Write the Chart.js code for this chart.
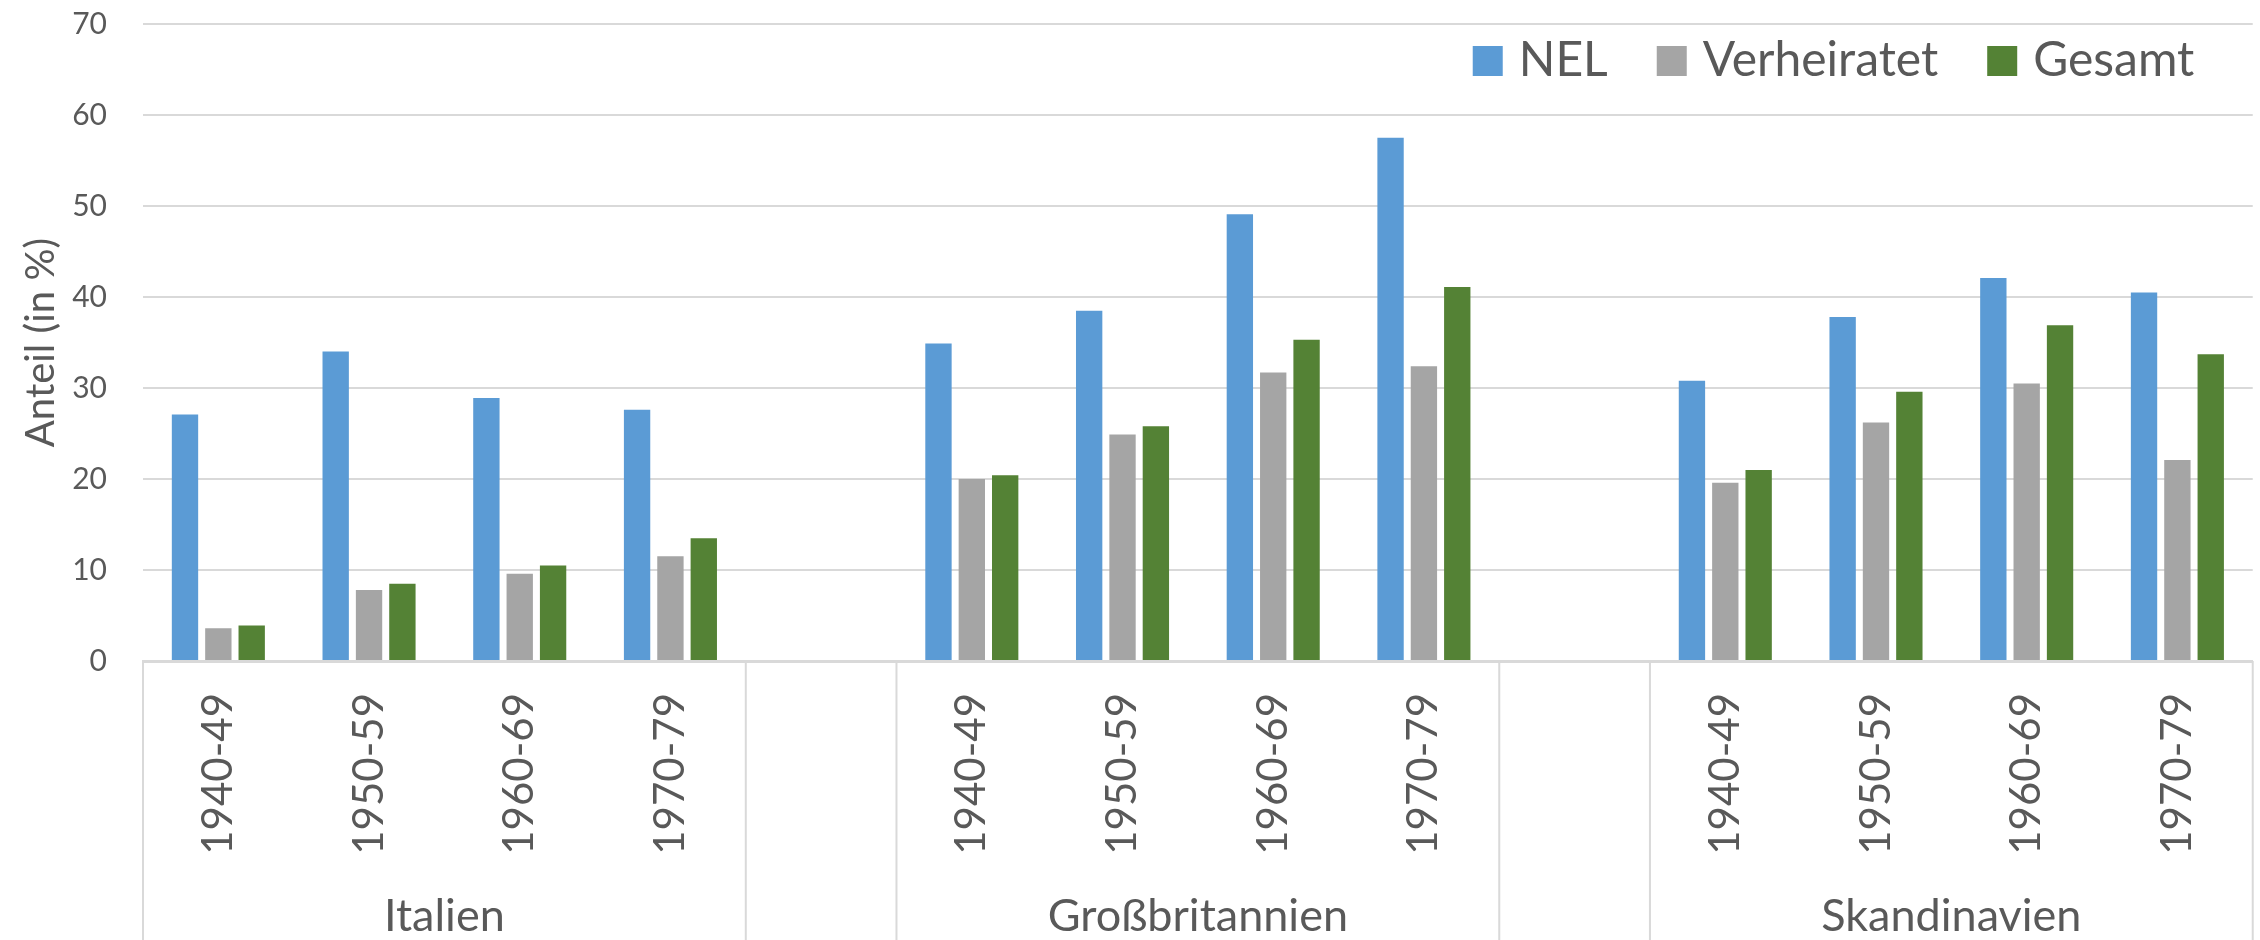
<!DOCTYPE html>
<html>
<head>
<meta charset="utf-8">
<title>Anteil nach Kohorte</title>
<script src="https://cdn.jsdelivr.net/npm/chart.js@4.4.1/dist/chart.umd.min.js"></script>
<style>
  html, body { margin: 0; padding: 0; background: #fff; }
  #wrap { width: 2260px; height: 940px; position: relative; }
</style>
</head>
<body>
<div id="wrap"><canvas id="chart"></canvas></div>
<script>
const regions = ['Italien', 'Großbritannien', 'Skandinavien'];
const cohorts = ['1940-49', '1950-59', '1960-69', '1970-79'];
const seriesNames = ['NEL', 'Verheiratet', 'Gesamt'];
const seriesColors = ['#5b9bd5', '#a5a5a5', '#548235'];

// values per region, cohorts in order
const nelValues = [27.1, 34.0, 28.9, 27.6, 34.9, 38.5, 49.1, 57.5, 30.8, 37.8, 42.1, 40.5];
const marriedValues = [3.6, 7.8, 9.6, 11.5, 20.0, 24.9, 31.7, 32.4, 19.6, 26.2, 30.5, 22.1];
const totalValues = [3.9, 8.5, 10.5, 13.5, 20.4, 25.8, 35.3, 41.1, 21.0, 29.6, 36.9, 33.7];

const yMin = 0;
const yMax = 70;
const yStep = 10;

const textColor = '#595959';
const lineColor = '#d9d9d9';
const font = 'Lato, "Open Sans", sans-serif';

// one slot per cohort, plus an empty slot between regions
const slotLabels = [];
const slotRegion = [];
regions.forEach((r, ri) => {
    cohorts.forEach(c => { slotLabels.push(c); slotRegion.push(ri); });
    if (ri < regions.length - 1) { slotLabels.push(''); slotRegion.push(-1); }
});

function spread(values) {
    let k = 0;
    return slotRegion.map(ri => ri < 0 ? null : values[k++]);
}

const regionCenters = regions.map((r, ri) => {
    const idx = slotRegion.map((v, i) => v === ri ? i : -1).filter(i => i >= 0);
    return (idx[0] + idx[idx.length - 1]) / 2;
});

// second level of the category axis: dividers and region names
const categoryGroups = {
    id: 'categoryGroups',
    afterDraw(chart) {
        const x = chart.scales.x;
        const ctx = chart.ctx;
        const area = chart.chartArea;
        const half = (x.getPixelForValue(1) - x.getPixelForValue(0)) / 2;
        const edges = [];
        slotRegion.forEach((ri, i) => {
            if (i === 0 || ri !== slotRegion[i - 1]) edges.push(x.getPixelForValue(i) - half);
        });
        edges.push(x.getPixelForValue(slotRegion.length - 1) + half);

        ctx.save();
        ctx.strokeStyle = lineColor;
        ctx.lineWidth = 2;
        edges.forEach(px => {
            ctx.beginPath();
            ctx.moveTo(px, area.bottom);
            ctx.lineTo(px, chart.height);
            ctx.stroke();
        });

        ctx.font = '45px ' + font;
        ctx.fillStyle = textColor;
        ctx.textAlign = 'center';
        ctx.textBaseline = 'alphabetic';
        regions.forEach((name, ri) => {
            ctx.fillText(name, x.getPixelForValue(regionCenters[ri]), area.bottom + 270);
        });
        ctx.restore();
    }
};

// legend drawn inside the plot, top right
const insideLegend = {
    id: 'insideLegend',
    afterDraw(chart) {
        const { ctx, chartArea } = chart;
        const size = 30;
        const boxTop = chartArea.top + 22;
        let x = chartArea.right - 780;
        ctx.save();
        ctx.font = '48px ' + font;
        ctx.textBaseline = 'alphabetic';
        chart.data.datasets.forEach(ds => {
            ctx.fillStyle = ds.backgroundColor;
            ctx.fillRect(x, boxTop, size, size);
            x += size + 16;
            ctx.fillStyle = textColor;
            ctx.fillText(ds.label, x, boxTop + size);
            x += ctx.measureText(ds.label).width + 49;
        });
        ctx.restore();
    }
};

const seriesValues = [nelValues, marriedValues, totalValues];

new Chart(document.getElementById('chart'), {
    type: 'bar',
    data: {
        labels: slotLabels,
        datasets: seriesNames.map((name, i) => ({
            label: name,
            data: spread(seriesValues[i]),
            backgroundColor: seriesColors[i],
            categoryPercentage: 0.664,
            barPercentage: 0.79
        }))
    },
    options: {
        responsive: true,
        maintainAspectRatio: false,
        animation: false,
        layout: { padding: { top: 24, right: 6, left: 0, bottom: 0 } },
        plugins: {
            legend: { display: false },
            tooltip: { enabled: false }
        },
        scales: {
            x: {
                grid: { display: false, drawTicks: false },
                border: { color: lineColor, width: 3 },
                ticks: {
                    autoSkip: false,
                    maxRotation: 90,
                    minRotation: 90,
                    padding: 32,
                    color: textColor,
                    font: { family: font, size: 42 }
                },
                // room for the cohort labels and the region row below them
                afterFit(axis) { axis.height = 279; }
            },
            y: {
                min: yMin,
                max: yMax,
                ticks: {
                    stepSize: yStep,
                    padding: 36,
                    color: textColor,
                    font: { family: font, size: 30 }
                },
                grid: { color: lineColor, lineWidth: 2, drawTicks: false },
                border: { display: false },
                title: {
                    display: true,
                    text: 'Anteil (in %)',
                    color: textColor,
                    font: { family: font, size: 40 },
                    padding: { top: 17, bottom: 0 }
                },
                afterFit(axis) {
                    axis.width = 143;
                    axis.paddingTop = 0;
                    axis.paddingBottom = 0;
                }
            }
        }
    },
    plugins: [categoryGroups, insideLegend]
});
</script>
</body>
</html>
